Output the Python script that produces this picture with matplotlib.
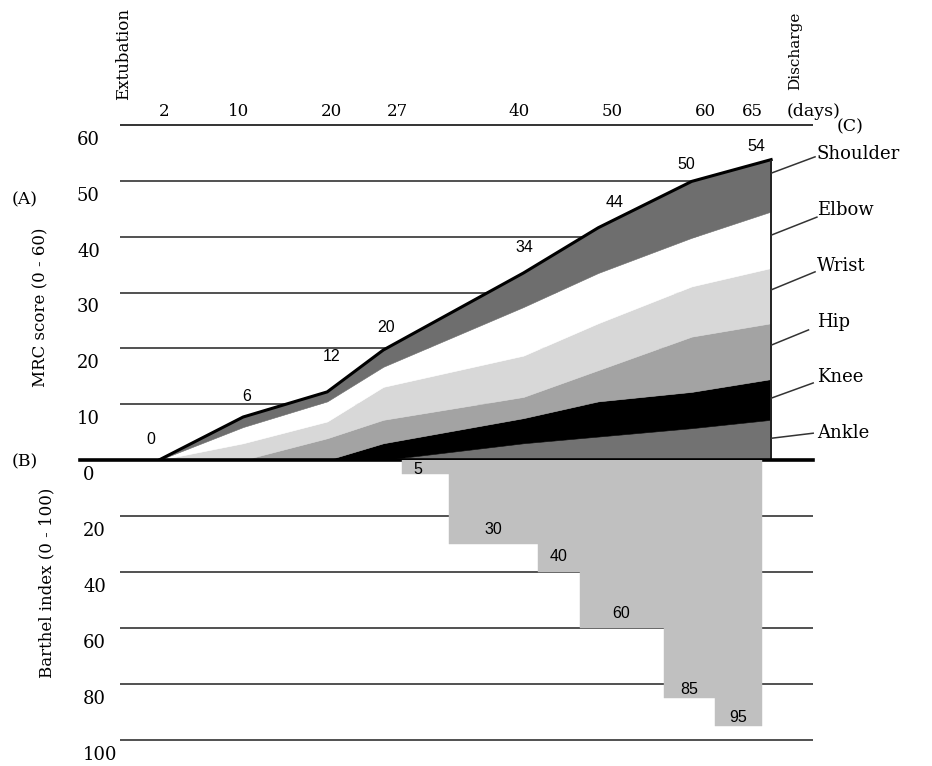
import matplotlib
matplotlib.use('Agg')
import matplotlib.pyplot as plt
import numpy as np
from matplotlib.transforms import ScaledTranslation, blended_transform_factory

# ---------------- data ----------------
mrc_days = [1.5, 10.5, 19.5, 25.5, 40.5, 48.5, 58.5, 67]
ankle    = [0, 0, 0, 0, 3.0, 4.2, 5.7, 7.2]
knee     = [0, 0, 0, 3.0, 4.5, 6.3, 6.5, 7.3]
hip      = [0, 0, 3.9, 4.2, 3.8, 5.6, 9.9, 10.0]
wrist    = [0, 3.0, 3.0, 5.9, 7.4, 8.4, 9.0, 9.9]
elbow    = [0, 2.9, 3.6, 3.6, 8.7, 9.0, 8.7, 10.1]
shoulder = [0, 1.8, 1.7, 3.0, 6.1, 8.1, 10.1, 9.3]
mrc_labels = ['0', '6', '12', '20', '34', '44', '50', '54']
parts = ['Shoulder', 'Elbow', 'Wrist', 'Hip', 'Knee', 'Ankle']

day_ticks = [2, 10, 20, 27, 40, 50, 60, 65]
mrc_ticks = [10, 20, 30, 40, 50, 60]

barthel_start = [27.5, 32.5, 42, 46.5, 55.5, 61]
barthel_end = 66
barthel = [5, 30, 40, 60, 85, 95]
barthel_ticks = [0, 20, 40, 60, 80, 100]

# ---------------- layout / style ----------------
W, H = 932, 766
SERIF = ['DejaVu Serif']
SANS = ['Liberation Sans', 'DejaVu Sans']
GRID = '#333333'
layer_colors = ['#727272', '#000000', '#a3a3a3', '#d8d8d8', '#ffffff', '#6e6e6e']
bar_color = '#c0c0c0'

fig = plt.figure(figsize=(W / 100, H / 100), dpi=100)
x0d, x1d = -6.956, 71.48
grid_x0 = -2.68
ax_t = fig.add_axes([80 / W, 1 - 460 / H, 733 / W, 335 / H])
ax_b = fig.add_axes([80 / W, 1 - 740 / H, 733 / W, 280 / H])
for ax in (ax_t, ax_b):
    ax.set_xlim(x0d, x1d)
    for s in ax.spines.values():
        s.set_visible(False)
    ax.set_xticks([])
    ax.set_yticks([])
    ax.patch.set_alpha(0)
ax_t.set_ylim(0, 60)
ax_b.set_ylim(100, 0)

# grid lines
ax_t.hlines(mrc_ticks[:-1], grid_x0, mrc_days[-1], color=GRID, lw=1.2, zorder=1)
ax_t.hlines(mrc_ticks[-1], grid_x0, x1d, color=GRID, lw=1.4, zorder=1, clip_on=False)
ax_b.hlines(barthel_ticks[1:], grid_x0, x1d, color=GRID, lw=1.2, zorder=1, clip_on=False)

# stacked MRC areas
polys = ax_t.stackplot(mrc_days, ankle, knee, hip, wrist, elbow, shoulder,
                       colors=layer_colors, zorder=2)
for p, c in zip(polys, layer_colors):
    p.set_edgecolor(c)
    p.set_linewidth(0.4)
total = np.sum([ankle, knee, hip, wrist, elbow, shoulder], axis=0)
ax_t.plot(mrc_days, total, color='black', lw=2.2, zorder=3)
ax_t.vlines(mrc_days[-1], 0, total[-1], color='#222222', lw=1.4, zorder=3)

# baseline
ax_t.plot([x0d, x1d], [0, 0], color='black', lw=2.6, zorder=5, clip_on=False)

# MRC value labels
lab_off_px = [(-8, 20), (4, 21), (4, 35), (3, 23), (1, 25), (16, 25), (-5, 17), (-15, 13)]
for d, t, lab, (dx, dy) in zip(mrc_days, total, mrc_labels, lab_off_px):
    ax_t.annotate(lab, (d, t), xytext=(dx * 0.72, dy * 0.72), textcoords='offset points',
                  ha='center', va='center', fontsize=11.5, family=SANS, zorder=6)

# body-part labels with leader lines
part_label_y = [54.8, 44.8, 34.7, 24.7, 14.9, 4.8]
leader_start_y = [51.4, 40.3, 30.5, 20.6, 11.1, 3.9]
leader_end = [(71.7, 54.3), (71.9, 43.5), (71.7, 33.7), (71.0, 23.3), (71.5, 13.8), (71.5, 4.8)]
for name, ly, sy, (ex, ey) in zip(parts, part_label_y, leader_start_y, leader_end):
    ax_t.plot([mrc_days[-1] + 0.05, ex], [sy, ey], color=GRID, lw=1.1, clip_on=False, zorder=4)
    ax_t.text(71.9, ly, name, ha='left', va='center', fontsize=13, family=SERIF)

# Barthel step bars (drawn downward)
edges = barthel_start + [barthel_end]
widths = np.diff(edges)
ax_b.bar(barthel_start, barthel, width=widths, align='edge', color=bar_color,
         edgecolor=bar_color, lw=0.3, zorder=2)
bar_lab_off_px = [(-8, -3), (0, 7), (0, 8), (0, 7), (0, 1), (0, 1)]
for s, w, v, (dx, dy) in zip(barthel_start, widths, barthel, bar_lab_off_px):
    ax_b.annotate(str(v), (s + w / 2, v), xytext=(dx * 0.72, dy * 0.72), textcoords='offset points',
                  ha='center', va='bottom', fontsize=11.5, family=SANS, zorder=6)

# y tick labels (placed just below each grid line)
tr_t = blended_transform_factory(ax_t.transAxes, ax_t.transData) + \
    ScaledTranslation(-3 / 100, -15 / 100, fig.dpi_scale_trans)
for v in mrc_ticks:
    ax_t.text(0, v, str(v), transform=tr_t, ha='left', va='center', fontsize=13, family=SERIF)
tr_b = blended_transform_factory(ax_b.transAxes, ax_b.transData) + \
    ScaledTranslation(3 / 100, -15 / 100, fig.dpi_scale_trans)
for v in barthel_ticks:
    ax_b.text(0, v, str(v), transform=tr_b, ha='left', va='center', fontsize=13, family=SERIF)

# day labels on top
tr_d = blended_transform_factory(ax_t.transData, ax_t.transAxes) + \
    ScaledTranslation(0, 13 / 100, fig.dpi_scale_trans)
for d in day_ticks:
    ax_t.text(d, 1, str(d), transform=tr_d, ha='center', va='center', fontsize=12, family=SERIF)
fig.text(787 / W, 1 - 112 / H, '(days)', ha='left', va='center', fontsize=12.5, family=SERIF)

fig.text(124 / W, 1 - 100 / H, 'Extubation', rotation=90, ha='center', va='bottom',
         fontsize=12, family=SERIF)
fig.text(795 / W, 1 - 90 / H, 'Discharge', rotation=90, ha='center', va='bottom',
         fontsize=11, family=SERIF)

# axis titles and panel letters
fig.text(41 / W, 1 - 307 / H, 'MRC score (0 - 60)', rotation=90, ha='center', va='center',
         fontsize=12, family=SERIF)
fig.text(47 / W, 1 - 583 / H, 'Barthel index (0 - 100)', rotation=90, ha='center', va='center',
         fontsize=12, family=SERIF)
fig.text(25 / W, 1 - 200 / H, '(A)', ha='center', va='center', fontsize=12.5, family=SERIF)
fig.text(25 / W, 1 - 462 / H, '(B)', ha='center', va='center', fontsize=12.5, family=SERIF)
fig.text(850 / W, 1 - 127 / H, '(C)', ha='center', va='center', fontsize=12.5, family=SERIF)

fig.savefig('out.png', dpi=100, facecolor='white')
